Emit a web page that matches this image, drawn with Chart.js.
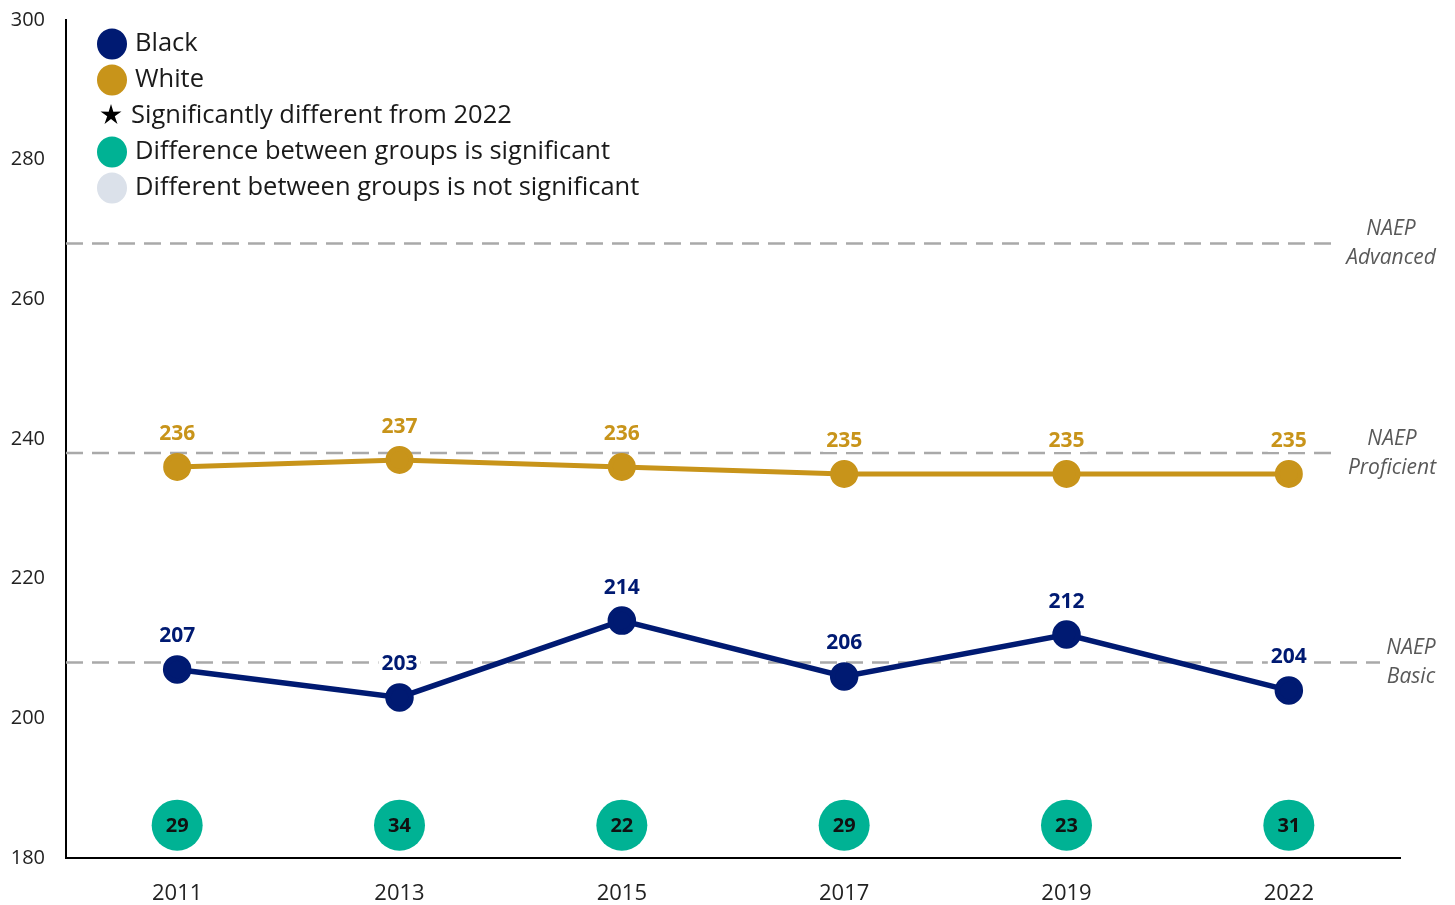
<!DOCTYPE html>
<html lang="en">
<head>
    <meta charset="UTF-8">
    <title>NAEP scores by group</title>
    <script src="https://cdn.jsdelivr.net/npm/chart.js"></script>
    <style>
        body { margin: 0; background: #fff; }
        #wrap { width: 1455px; height: 905px; }
    </style>
</head>
<body>
    <div id="wrap"><canvas id="scoreChart"></canvas></div>

    <script>
        // data
        const years = ['2011', '2013', '2015', '2017', '2019', '2022'];
        const blackScores = [207, 203, 214, 206, 212, 204];
        const whiteScores = [236, 237, 236, 235, 235, 235];
        const gapScores = [29, 34, 22, 29, 23, 31];
        const gapSignificant = [true, true, true, true, true, true];

        const naepNames = ['Advanced', 'Proficient', 'Basic'];
        const naepCutScores = [268, 238, 208];

        const yMin = 180, yMax = 300, yStep = 20;
        const gapRow = 184.7; // where the gap bubbles sit

        const legendLabels = [
            'Black',
            'White',
            'Significantly different from 2022',
            'Difference between groups is significant',
            'Different between groups is not significant'
        ];

        const NAVY = '#001a72';
        const GOLD = '#c8941a';
        const TEAL = '#00b294';
        const PALE = '#dbe1ea';
        const FONT = '"Open Sans", "Noto Sans", sans-serif';

        // NAEP reference lines, drawn under the data
        const naepLines = {
            id: 'naepLines',
            beforeDatasetsDraw(chart) {
                const { ctx, chartArea, scales } = chart;
                const ends = [chartArea.right - 60, chartArea.right - 60, chartArea.right - 20];
                const textX = [1391, 1392, 1411];
                ctx.save();
                for (let i = 0; i < naepCutScores.length; i++) {
                    const y = scales.y.getPixelForValue(naepCutScores[i]);
                    ctx.strokeStyle = '#a9a9a9';
                    ctx.lineWidth = 2.5;
                    ctx.setLineDash([17, 9]);
                    ctx.beginPath();
                    ctx.moveTo(chartArea.left, y);
                    ctx.lineTo(ends[i], y);
                    ctx.stroke();

                    ctx.setLineDash([]);
                    ctx.fillStyle = '#595959';
                    ctx.font = 'italic 21px ' + FONT;
                    ctx.textAlign = 'center';
                    ctx.textBaseline = 'middle';
                    ctx.fillText('NAEP', textX[i], y - 14);
                    ctx.fillText(naepNames[i], textX[i], y + 15);
                }
                ctx.restore();
            }
        };

        // value labels above points, and numbers in the gap bubbles
        const pointLabels = {
            id: 'pointLabels',
            afterDatasetsDraw(chart) {
                const { ctx } = chart;
                ctx.save();
                ctx.textAlign = 'center';
                ctx.textBaseline = 'middle';
                [0, 1].forEach(di => {
                    const ds = chart.data.datasets[di];
                    chart.getDatasetMeta(di).data.forEach((pt, i) => {
                        const txt = String(ds.data[i]);
                        ctx.font = 'bold 21px ' + FONT;
                        const w = ctx.measureText(txt).width;
                        const y = pt.y - 33;
                        ctx.fillStyle = '#fff';
                        ctx.fillRect(pt.x - w / 2 - 3, y - 11, w + 6, 22);
                        ctx.fillStyle = ds.borderColor;
                        ctx.fillText(txt, pt.x, y);
                    });
                });
                chart.getDatasetMeta(2).data.forEach((pt, i) => {
                    ctx.font = 'bold 20px ' + FONT;
                    ctx.fillStyle = '#111';
                    ctx.fillText(String(gapScores[i]), pt.x, pt.y + 1);
                });
                ctx.restore();
            }
        };

        // legend in the top-left corner of the plot
        const cornerLegend = {
            id: 'cornerLegend',
            afterDraw(chart) {
                const { ctx, chartArea } = chart;
                const cx = chartArea.left + 46;
                const top = 44, step = 36;
                const marks = [NAVY, GOLD, 'star', TEAL, PALE];
                ctx.save();
                marks.forEach((m, i) => {
                    const y = top + i * step;
                    if (m === 'star') {
                        drawStar(ctx, cx - 1, y - 1, 11, 4);
                    } else {
                        ctx.fillStyle = m;
                        ctx.beginPath();
                        ctx.ellipse(cx, y, 15, 15.5, 0, 0, Math.PI * 2);
                        ctx.fill();
                    }
                    ctx.fillStyle = '#1a1a1a';
                    ctx.font = '25.5px ' + FONT;
                    ctx.textAlign = 'left';
                    ctx.textBaseline = 'middle';
                    ctx.fillText(legendLabels[i], m === 'star' ? cx + 19 : cx + 23, y);
                });
                ctx.restore();
            }
        };

        function drawStar(ctx, x, y, outer, inner) {
            ctx.fillStyle = '#000';
            ctx.beginPath();
            for (let k = 0; k < 10; k++) {
                const r = k % 2 === 0 ? outer : inner;
                const a = -Math.PI / 2 + k * Math.PI / 5;
                const px = x + r * Math.cos(a), py = y + r * Math.sin(a);
                if (k === 0) ctx.moveTo(px, py); else ctx.lineTo(px, py);
            }
            ctx.closePath();
            ctx.fill();
        }

        const ctx = document.getElementById('scoreChart').getContext('2d');
        new Chart(ctx, {
            type: 'line',
            data: {
                labels: years,
                datasets: [
                    {
                        label: 'Black',
                        data: blackScores,
                        borderColor: NAVY,
                        backgroundColor: NAVY,
                        borderWidth: 5.5,
                        pointRadius: 11.5,
                        pointHoverRadius: 11.5,
                        tension: 0
                    },
                    {
                        label: 'White',
                        data: whiteScores,
                        borderColor: GOLD,
                        backgroundColor: GOLD,
                        borderWidth: 5,
                        pointRadius: 11.5,
                        pointHoverRadius: 11.5,
                        tension: 0
                    },
                    {
                        label: 'Gap',
                        data: gapScores.map(() => gapRow),
                        showLine: false,
                        borderWidth: 0,
                        backgroundColor: gapSignificant.map(s => s ? TEAL : PALE),
                        pointRadius: 25.5,
                        pointHoverRadius: 25.5
                    }
                ]
            },
            options: {
                responsive: true,
                maintainAspectRatio: false,
                animation: false,
                layout: { autoPadding: false, padding: { left: 0, right: 55, top: 20, bottom: 0 } },
                plugins: {
                    legend: { display: false },
                    tooltip: { enabled: false }
                },
                scales: {
                    x: {
                        offset: true,
                        grid: { display: true, color: 'transparent', drawTicks: false },
                        border: { display: true, color: '#000', width: 2 },
                        ticks: { color: '#222', font: { family: FONT, size: 22 }, padding: 23 },
                        afterFit(scale) { scale.height = 47; }
                    },
                    y: {
                        min: yMin,
                        max: yMax,
                        grid: { display: true, color: 'transparent', drawTicks: false },
                        border: { display: true, color: '#000', width: 2 },
                        ticks: { stepSize: yStep, color: '#222', font: { family: FONT, size: 20 }, padding: 21 },
                        afterFit(scale) {
                            scale.width = 66;
                            scale.paddingTop = 0;
                            scale.paddingBottom = 0;
                        }
                    }
                }
            },
            plugins: [naepLines, pointLabels, cornerLegend]
        });
    </script>
</body>
</html>
